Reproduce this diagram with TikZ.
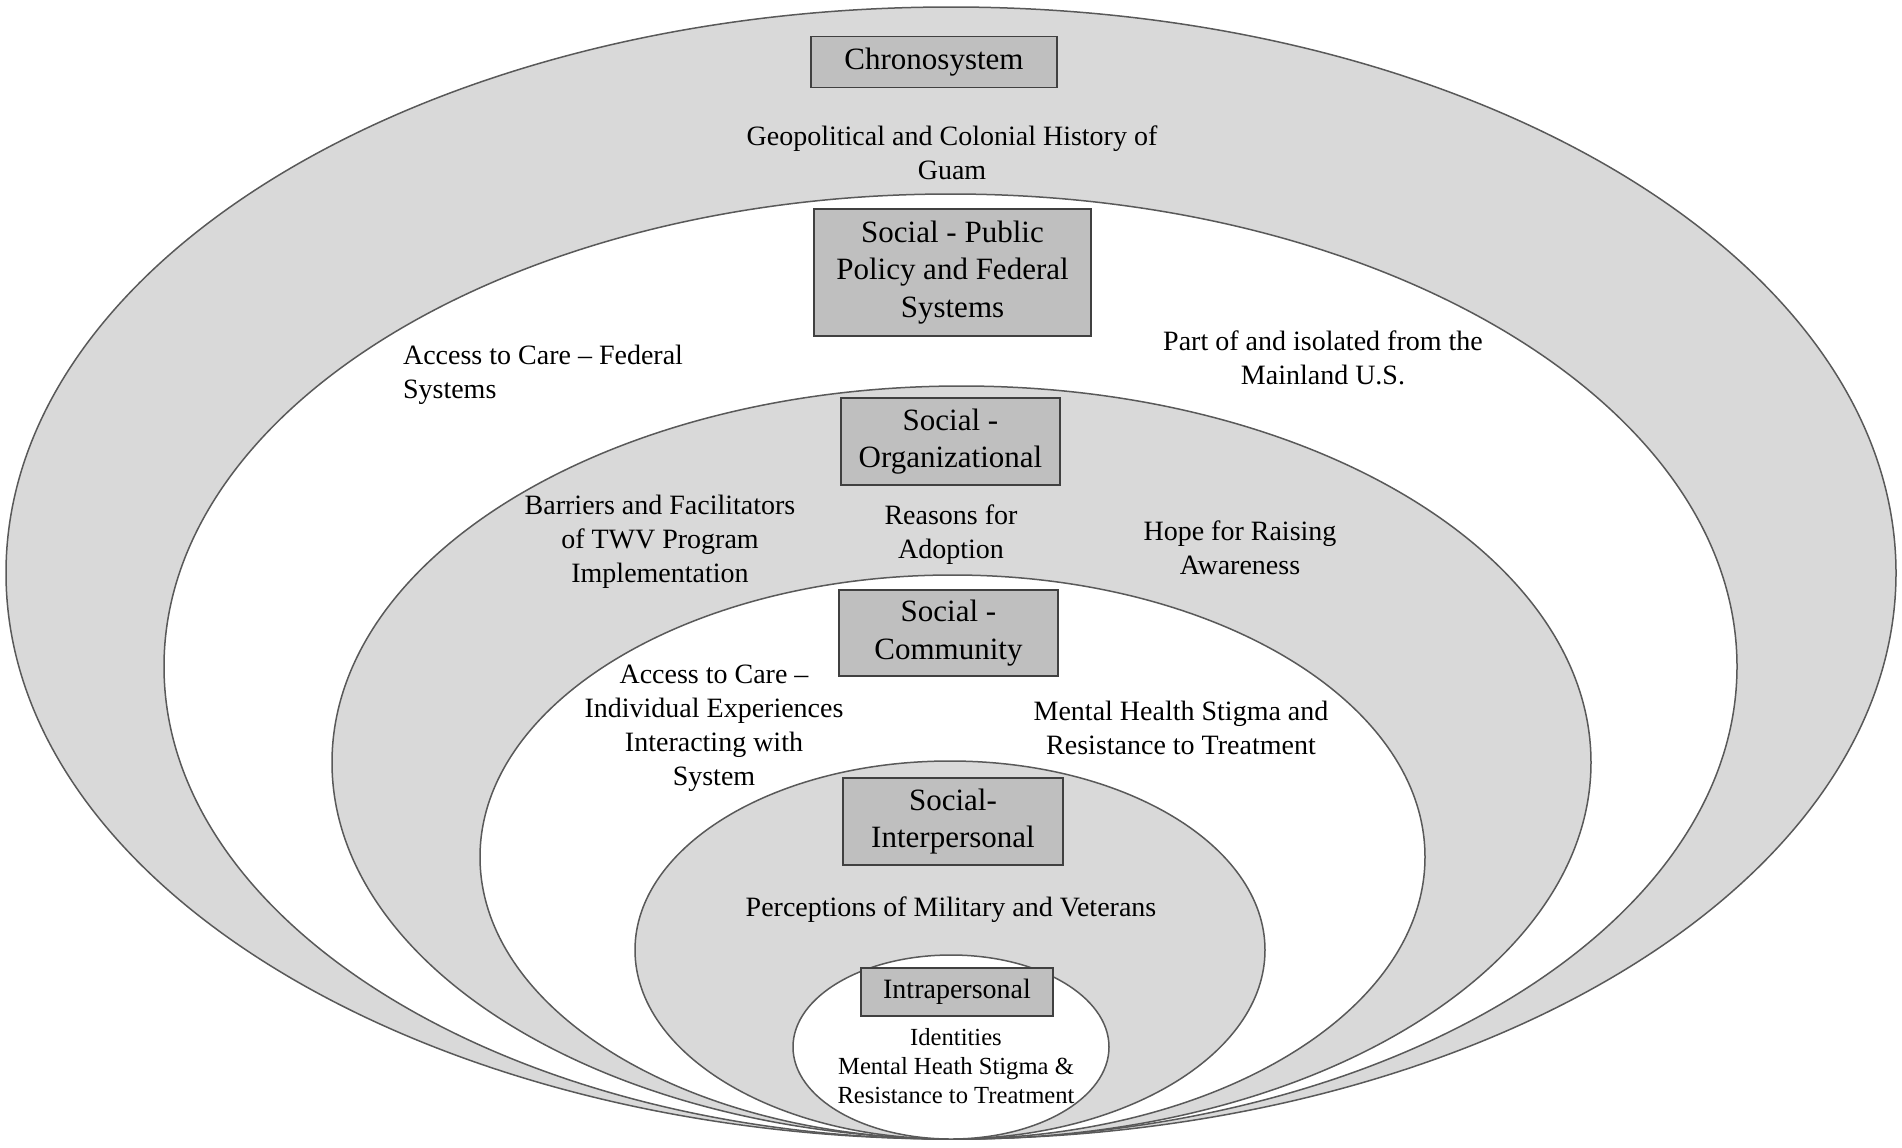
\documentclass[tikz,border=0pt]{standalone}
\usepackage{fontspec}
\setmainfont{Liberation Serif}
\usepackage{tikz}
\usetikzlibrary{positioning}
\definecolor{ringgray}{HTML}{D9D9D9}
\definecolor{boxgray}{HTML}{BFBFBF}
\definecolor{edgegray}{HTML}{595959}
\begin{document}
\begin{tikzpicture}[x=0.5pt,y=-0.5pt,
	grayring/.style={draw=edgegray,line width=0.75pt,fill=ringgray},
	whitering/.style={draw=edgegray,line width=0.75pt,fill=white},
	levelbox/.style={draw=black!75,line width=0.75pt,fill=boxgray,align=center,inner sep=0pt,font=\fontsize{15.5}{18.8}\selectfont},
	note/.style={align=center,font=\fontsize{14}{17}\selectfont},
	smallnote/.style={align=center,font=\fontsize{12.3}{14.3}\selectfont}]
	\useasboundingbox (0,0) rectangle (1902,1147);
	\draw [grayring] (951,573) ellipse [x radius=945,y radius=566];
	\draw [whitering] (950.5,666.5) ellipse [x radius=786.5,y radius=472.5];
	\draw [grayring] (961.5,762.5) ellipse [x radius=629.5,y radius=376.5];
	\draw [whitering] (952.5,857) ellipse [x radius=472.5,y radius=282];
	\draw [grayring] (950,950) ellipse [x radius=315,y radius=189];
	\draw [whitering] (951,1047) ellipse [x radius=158,y radius=92];
		\node [levelbox,minimum width=123pt,minimum height=25.5pt] (chrono) at (934,62) {Chronosystem};
		\node [note] (geo) at (952,153) {Geopolitical and Colonial History of\\Guam};
		\node [levelbox,minimum width=138.5pt,minimum height=63.5pt] (policy) at (952.5,272.5) {Social - Public\\Policy and Federal\\Systems};
		\node [note,align=left,anchor=west] (federal) at (396,375) {Access to Care -- Federal\\Systems};
		\node [note] (mainland) at (1323,358) {Part of and isolated from the\\Mainland U.S.};
		\node [levelbox,minimum width=109.5pt,minimum height=43.5pt] (org) at (950.5,441.5) {Social -\\Organizational};
		\node [note] (barriers) at (660,542) {Barriers and Facilitators\\of TWV Program\\Implementation};
		\node [note] (reasons) at (951,535) {Reasons for\\Adoption};
		\node [note] (hope) at (1240,548) {Hope for Raising\\Awareness};
		\node [levelbox,minimum width=109.5pt,minimum height=43pt] (comm) at (948.5,633) {Social -\\Community};
		\node [note] (access) at (714,728) {Access to Care --\\Individual Experiences\\Interacting with\\System};
		\node [note] (stigma) at (1181,728) {Mental Health Stigma and\\Resistance to Treatment};
		\node [levelbox,minimum width=110pt,minimum height=43.5pt] (inter) at (953,821.5) {Social-\\Interpersonal};
		\node [note] (percep) at (951,910) {Perceptions of Military and Veterans};
		\node [levelbox,font=\fontsize{14}{17}\selectfont,minimum width=96pt,minimum height=24pt] (intra) at (957,992) {Intrapersonal};
		\node [smallnote] (ident) at (956,1066) {Identities\\Mental Heath Stigma \&\\Resistance to Treatment};
\end{tikzpicture}
\end{document}
